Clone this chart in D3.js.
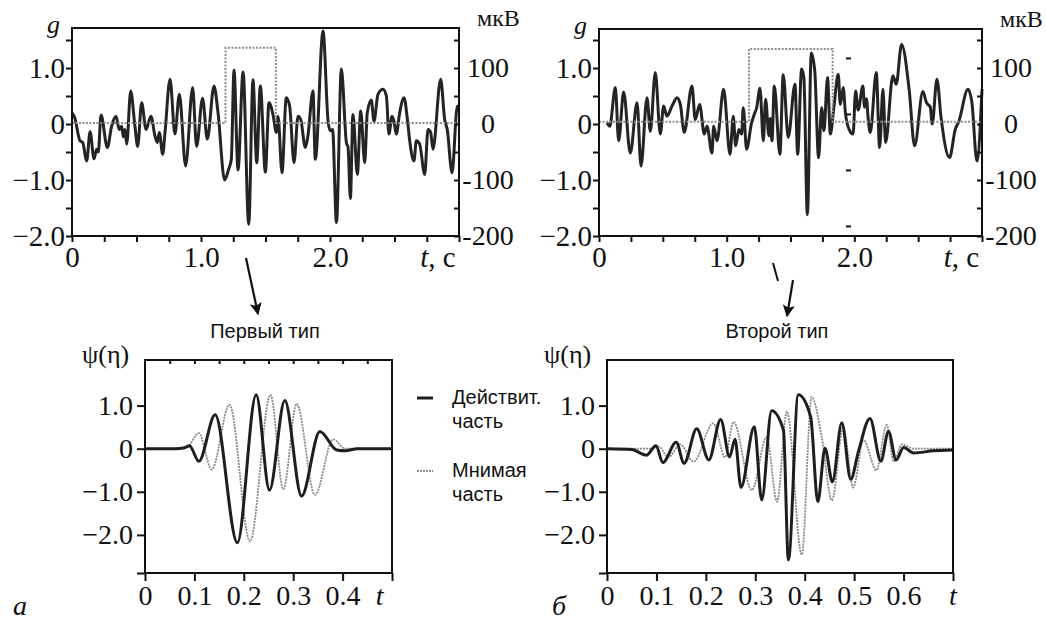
<!DOCTYPE html>
<html>
<head>
<meta charset="utf-8">
<script src="https://cdn.jsdelivr.net/npm/d3@7"></script>
<style>
  body { margin: 0; background: #fff; }
  svg { display: block; }
</style>
</head>
<body>
<svg id="chart"></svg>
<script>
// ---- data: [t, value] ----
const eegFirst = [[0,0.2],[0.02,0.12],[0.062,-0.30],[0.083,-0.33],[0.114,-0.66],[0.14,-0.14],[0.171,-0.62],[0.191,-0.45],[0.204,-0.5],[0.225,0.16],[0.274,-0.42],[0.307,-0.04],[0.341,0.14],[0.367,-0.1],[0.385,-0.04],[0.398,-0.23],[0.411,-0.1],[0.424,-0.36],[0.455,0.59],[0.488,-0.04],[0.509,-0.40],[0.54,0.38],[0.574,-0.1],[0.612,0.14],[0.643,-0.21],[0.661,-0.33],[0.677,-0.15],[0.703,-0.54],[0.721,-0.15],[0.76,0.80],[0.798,-0.18],[0.832,0.53],[0.881,-0.75],[0.935,0.65],[0.966,-0.40],[1.012,0.46],[1.049,-0.27],[1.101,0.68],[1.132,0.2],[1.183,-1.0],[1.214,-0.81],[1.235,-0.63],[1.256,0.96],[1.287,-0.82],[1.326,0.93],[1.37,-1.79],[1.403,0.79],[1.432,-0.69],[1.46,0.68],[1.499,-0.86],[1.527,0.38],[1.558,0.17],[1.584,-0.15],[1.597,0.14],[1.628,-0.87],[1.661,0.47],[1.687,0.32],[1.721,-0.69],[1.752,0.14],[1.773,0.08],[1.809,-0.42],[1.829,-0.21],[1.868,0.59],[1.886,-0.63],[1.946,1.66],[1.985,0.05],[2.0,-0.12],[2.02,-0.1],[2.05,-1.76],[2.088,0.98],[2.127,-0.33],[2.14,-0.42],[2.158,-1.33],[2.178,0.17],[2.212,-0.90],[2.238,0.23],[2.269,-0.69],[2.289,0.2],[2.32,0.43],[2.341,0.05],[2.372,0.53],[2.411,0.62],[2.437,0.5],[2.457,-0.18],[2.481,0.14],[2.496,0.05],[2.514,-0.18],[2.54,0.2],[2.574,0.47],[2.6,0.08],[2.618,-0.3],[2.651,-0.66],[2.669,-0.3],[2.695,-0.36],[2.734,-0.90],[2.76,-0.1],[2.78,-0.15],[2.798,-0.45],[2.858,0.80],[2.889,0.08],[2.909,-0.1],[2.946,-0.87],[2.987,0.32],[3.0,0.3]];

const eegSecond = [[0.063,0.02],[0.084,-0.04],[0.128,0.65],[0.154,-0.30],[0.193,0.57],[0.245,-0.52],[0.298,0.38],[0.329,-0.75],[0.376,0.47],[0.402,-0.13],[0.441,0.92],[0.48,-0.18],[0.506,0.32],[0.532,0.14],[0.572,0.32],[0.611,0.47],[0.637,0.35],[0.668,-0.15],[0.728,0.68],[0.754,0.08],[0.788,0.35],[0.825,-0.18],[0.846,-0.04],[0.885,-0.52],[0.898,-0.04],[0.924,-0.3],[0.976,0.62],[1.026,-0.54],[1.052,0.14],[1.07,-0.39],[1.096,-0.1],[1.117,-0.18],[1.13,0.29],[1.156,-0.45],[1.195,0.02],[1.216,0.17],[1.235,0.29],[1.261,0.64],[1.287,-0.30],[1.305,0.44],[1.331,-0.21],[1.342,0.1],[1.355,-0.3],[1.373,0.68],[1.417,-0.54],[1.443,0.88],[1.482,-0.24],[1.535,0.71],[1.556,-0.54],[1.587,0.98],[1.605,0.82],[1.632,-1.62],[1.663,1.27],[1.69,0.95],[1.72,-0.6],[1.744,0.29],[1.762,-0.12],[1.79,0.83],[1.812,-0.18],[1.84,0.3],[1.874,0.89],[1.89,0.35],[1.913,0.65],[1.93,0.2],[1.96,-0.1],[1.99,-0.18],[2.01,0.59],[2.03,0.25],[2.067,0.68],[2.08,0.3],[2.095,0.45],[2.11,0.05],[2.125,-0.15],[2.172,0.92],[2.198,-0.42],[2.224,0.62],[2.245,-0.33],[2.302,0.86],[2.328,0.71],[2.37,1.42],[2.43,0.6],[2.472,-0.39],[2.537,0.58],[2.565,0.38],[2.595,0.3],[2.61,0.0],[2.647,0.8],[2.68,0.1],[2.746,-0.6],[2.79,-0.1],[2.819,0.05],[2.89,0.62],[2.92,0.4],[2.96,-0.66],[3.0,0.62]];

// rectangular windows (dotted)
const windowFirst = [[0,0.02],[1.19,0.02],[1.19,1.36],[1.58,1.36],[1.58,0.02],[3,0.02]];
const windowSecond = [[0,0.04],[1.175,0.04],[1.175,1.34],[1.83,1.34],[1.83,0.04],[3,0.04]];

// wavelets
const firstReal = [[0,0],[0.06,0],[0.08,0.02],[0.09,0.07],[0.109,-0.29],[0.142,0.785],[0.187,-2.18],[0.225,1.25],[0.252,-0.96],[0.283,1.12],[0.317,-1.10],[0.354,0.40],[0.388,-0.03],[0.405,-0.05],[0.43,0],[0.5,0]];
const firstImag = [[0,0],[0.07,0],[0.085,0.03],[0.109,0.36],[0.135,-0.485],[0.171,1.02],[0.2125,-2.15],[0.254,1.25],[0.28,-0.94],[0.307,1.04],[0.344,-1.07],[0.381,0.22],[0.405,0],[0.5,0]];
const secondReal = [[0,0],[0.05,-0.02],[0.08,-0.15],[0.099,0.07],[0.113,-0.32],[0.14,0.15],[0.156,-0.34],[0.1815,0.46],[0.206,-0.26],[0.23,0.68],[0.248,-0.19],[0.259,0.22],[0.271,-0.9],[0.298,0.51],[0.313,-1.19],[0.333,0.88],[0.357,0.43],[0.367,-2.58],[0.387,1.25],[0.412,0.74],[0.4265,-1.23],[0.441,0.01],[0.456,-0.77],[0.475,0.6],[0.493,-0.71],[0.509,-0.05],[0.532,0.7],[0.554,-0.29],[0.5695,0.4],[0.585,-0.26],[0.6,0.03],[0.62,-0.1],[0.66,-0.05],[0.7,-0.03]];
const secondImag = [[0,0],[0.09,0],[0.105,0.05],[0.124,-0.2],[0.148,0.1],[0.175,-0.3],[0.215,0.59],[0.239,-0.2],[0.256,0.62],[0.293,-0.96],[0.323,0.27],[0.344,-1.23],[0.364,0.86],[0.394,-2.46],[0.414,1.2],[0.434,0.3],[0.455,-1.2],[0.478,0.5],[0.498,-0.9],[0.519,0.2],[0.545,-0.5],[0.566,0.55],[0.58,-0.3],[0.597,0.1],[0.62,0],[0.7,0]];

const gTicks = [-2, -1.5, -1, -0.5, 0, 0.5, 1, 1.5];
const gLabels = [-2, -1, 0, 1];
const uvTicks = [-200, -150, -100, -50, 0, 50, 100, 150];
const uvLabels = [-200, -100, 0, 100];
const strayTicks = [1.18, 0.18, -0.82, -1.82];   // stray dashes inside the second record
const secTicks = d3.range(0, 3.01, 0.25);
const secLabels = [0, 1, 2];
const psiTicks = [-2, -1, 0, 1];
const legendNames = [["Действит.", "часть"], ["Мнимая", "часть"]];
const typeNames = ["Первый тип", "Второй тип"];

const SERIF = '"Liberation Serif", "Times New Roman", serif';
const SANS = '"Liberation Sans", Arial, sans-serif';

// ---- layout ----
const svg = d3.select("#chart").attr("width", 1046).attr("height", 624);

const top1 = {left: 72, right: 459, top: 28, bottom: 236};
const top2 = {left: 599, right: 982, top: 29, bottom: 236};
const bot1 = {left: 145, right: 392, top: 360, bottom: 573, tmax: 0.5};
const bot2 = {left: 607, right: 953, top: 360, bottom: 573, tmax: 0.7};

const gFmt = d => d === 0 ? "0" : d3.format(".1f")(d);

function txt(x, y, s, size, fam, italic) {
  return svg.append("text").attr("x", x).attr("y", y)
    .style("font-family", fam).style("font-size", size + "px")
    .style("font-style", italic ? "italic" : "normal").attr("fill", "#111").text(s);
}

function frame(p) {
  svg.append("rect")
    .attr("x", p.left).attr("y", p.top)
    .attr("width", p.right - p.left).attr("height", p.bottom - p.top)
    .attr("fill", "none").attr("stroke", "#111").attr("stroke-width", 2);
}

function styleAxis(g, size) {
  g.select(".domain").remove();
  g.selectAll(".tick line").attr("stroke", "#111").attr("stroke-width", 2);
  g.selectAll(".tick text").attr("fill", "#111")
    .style("font-family", SERIF).style("font-size", size + "px");
}

function topPanel(p, signal, win) {
  const x = d3.scaleLinear().domain([0, 3]).range([p.left, p.right]);
  const y = d3.scaleLinear().domain([-2, -2 + (p.bottom - p.top) / 56]).range([p.bottom, p.top]);
  const yR = d3.scaleLinear().domain(y.domain().map(v => v * 100)).range(y.range());

  const line = d3.line().x(d => x(d[0])).y(d => y(d[1])).curve(d3.curveMonotoneX);
  const stepLine = d3.line().x(d => x(d[0])).y(d => y(d[1]));

  svg.append("path").datum(signal).attr("d", line)
    .attr("fill", "none").attr("stroke", "#242424").attr("stroke-width", 3)
    .attr("stroke-linejoin", "round");
  svg.append("path").datum(win).attr("d", stepLine)
    .attr("fill", "none").attr("stroke", "#8c8c8c").attr("stroke-width", 2)
    .attr("stroke-dasharray", "2,1.5");

  frame(p);

  svg.append("g").attr("transform", `translate(${p.left},0)`)
    .call(d3.axisLeft(y).tickValues(gTicks).tickSize(6).tickPadding(1)
      .tickFormat(d => gLabels.includes(d) ? gFmt(d) : ""))
    .call(g => styleAxis(g, 29));

  svg.append("g").attr("transform", `translate(0,${p.bottom})`)
    .call(d3.axisBottom(x).tickValues(secTicks).tickSize(6).tickPadding(4)
      .tickFormat(d => secLabels.includes(d) ? gFmt(d) : ""))
    .call(g => styleAxis(g, 29));

  svg.append("g").attr("transform", `translate(${p.right},0)`)
    .call(d3.axisRight(yR).tickValues(uvTicks).tickSize(-5).tickPadding(0)
      .tickFormat(d => uvLabels.includes(d) ? String(d) : ""))
    .call(g => styleAxis(g, 28))
    .call(g => g.selectAll(".tick text").attr("text-anchor", "middle").attr("x", 29));

  txt(p.left - 25, p.top + 5, "g", 26, SERIF, true);
  txt(p.right + 18, p.top - 2, "мкВ", 24, SERIF, false);

  const tl = txt(x(2.7), p.bottom + 31, "", 29, SERIF, false);
  tl.append("tspan").style("font-style", "italic").text("t");
  tl.append("tspan").text(", с");
  return {x, y};
}

function botPanel(p, real, imag, tTicks, tLabelAt) {
  const x = d3.scaleLinear().domain([0, p.tmax]).range([p.left, p.right]);
  const y = d3.scaleLinear().domain([(448.7 - p.bottom) / 43.1, (448.7 - p.top) / 43.1]).range([p.bottom, p.top]);
  const line = d3.line().x(d => x(d[0])).y(d => y(d[1])).curve(d3.curveMonotoneX);

  svg.append("path").datum(imag).attr("d", line)
    .attr("fill", "none").attr("stroke", "#8a8a8a").attr("stroke-width", 1.8)
    .attr("stroke-dasharray", "2,1");
  svg.append("path").datum(real).attr("d", line)
    .attr("fill", "none").attr("stroke", "#1e1e1e").attr("stroke-width", 3);

  frame(p);

  svg.append("g").attr("transform", `translate(${p.left},0)`)
    .call(d3.axisLeft(y).tickValues(psiTicks.concat([y.domain()[0]])).tickSize(8).tickPadding(4)
      .tickFormat(d => psiTicks.includes(d) ? gFmt(d) : ""))
    .call(g => styleAxis(g, 28));

  svg.append("g").attr("transform", `translate(0,${p.bottom})`)
    .call(d3.axisBottom(x).tickValues(tTicks).tickSize(8).tickPadding(4)
      .tickFormat(d => d < tTicks[tTicks.length - 1] - 1e-9 ? gFmt(d) : ""))
    .call(g => styleAxis(g, 28));

  txt(x(tLabelAt), p.bottom + 32, "t", 28, SERIF, true).attr("text-anchor", "middle");
  txt(p.left - 63, p.top + 3, "ψ(η)", 26, SERIF, false);
  return {x, y};
}

const A = topPanel(top1, eegFirst, windowFirst);
const B = topPanel(top2, eegSecond, windowSecond);

// stray dashes inside the second record
svg.append("g").attr("transform", `translate(${B.x(1.935)},0)`)
  .call(d3.axisRight(B.y).tickValues(strayTicks).tickSize(5).tickFormat(""))
  .call(g => styleAxis(g, 10));

const C = botPanel(bot1, firstReal, firstImag, d3.range(0, 0.51, 0.1).map(v => +v.toFixed(1)), 0.475);
// minor ticks along the top of the first wavelet frame
svg.append("g").attr("transform", `translate(0,${bot1.top})`)
  .call(d3.axisBottom(C.x).tickValues(d3.range(0.05, 0.5, 0.05)).tickSize(4).tickFormat(""))
  .call(g => styleAxis(g, 10));
const D = botPanel(bot2, secondReal, secondImag, d3.range(0, 0.71, 0.1).map(v => +v.toFixed(1)), 0.7);

// type captions and arrows
const arrows = [
  {from: [246, 258], to: [258, 314]},
  {from: [793, 280], to: [787, 316]}
];
svg.append("defs").append("marker").attr("id", "head")
  .attr("viewBox", "0 0 10 10").attr("refX", 9).attr("refY", 5)
  .attr("markerWidth", 8).attr("markerHeight", 5.5).attr("orient", "auto")
  .append("path").attr("d", "M0,0 L10,5 L0,10 L2,5 z").attr("fill", "#111");
arrows.forEach(a => {
  svg.append("line").attr("x1", a.from[0]).attr("y1", a.from[1])
    .attr("x2", a.to[0]).attr("y2", a.to[1])
    .attr("stroke", "#111").attr("stroke-width", 2.2).attr("marker-end", "url(#head)");
});
svg.append("line").attr("x1", 773).attr("y1", 263).attr("x2", 778).attr("y2", 281)
  .attr("stroke", "#111").attr("stroke-width", 2);

txt(265, 338, typeNames[0], 20, SANS, false).attr("text-anchor", "middle");
txt(777, 338, typeNames[1], 20, SANS, false).attr("text-anchor", "middle");

// legend
const legendY = [398, 471];
legendNames.forEach((names, i) => {
  svg.append("line").attr("x1", 417).attr("x2", 433).attr("y1", legendY[i]).attr("y2", legendY[i])
    .attr("stroke", i === 0 ? "#1e1e1e" : "#8a8a8a").attr("stroke-width", i === 0 ? 3 : 1.8)
    .attr("stroke-dasharray", i === 0 ? null : "2,1");
  names.forEach((n, j) => txt(452, legendY[i] + 6 + j * 24, n, 20, SANS, false));
});

// panel letters
txt(13, 615, "а", 28, SERIF, true);
txt(552, 615, "б", 28, SERIF, true);
</script>
</body>
</html>
